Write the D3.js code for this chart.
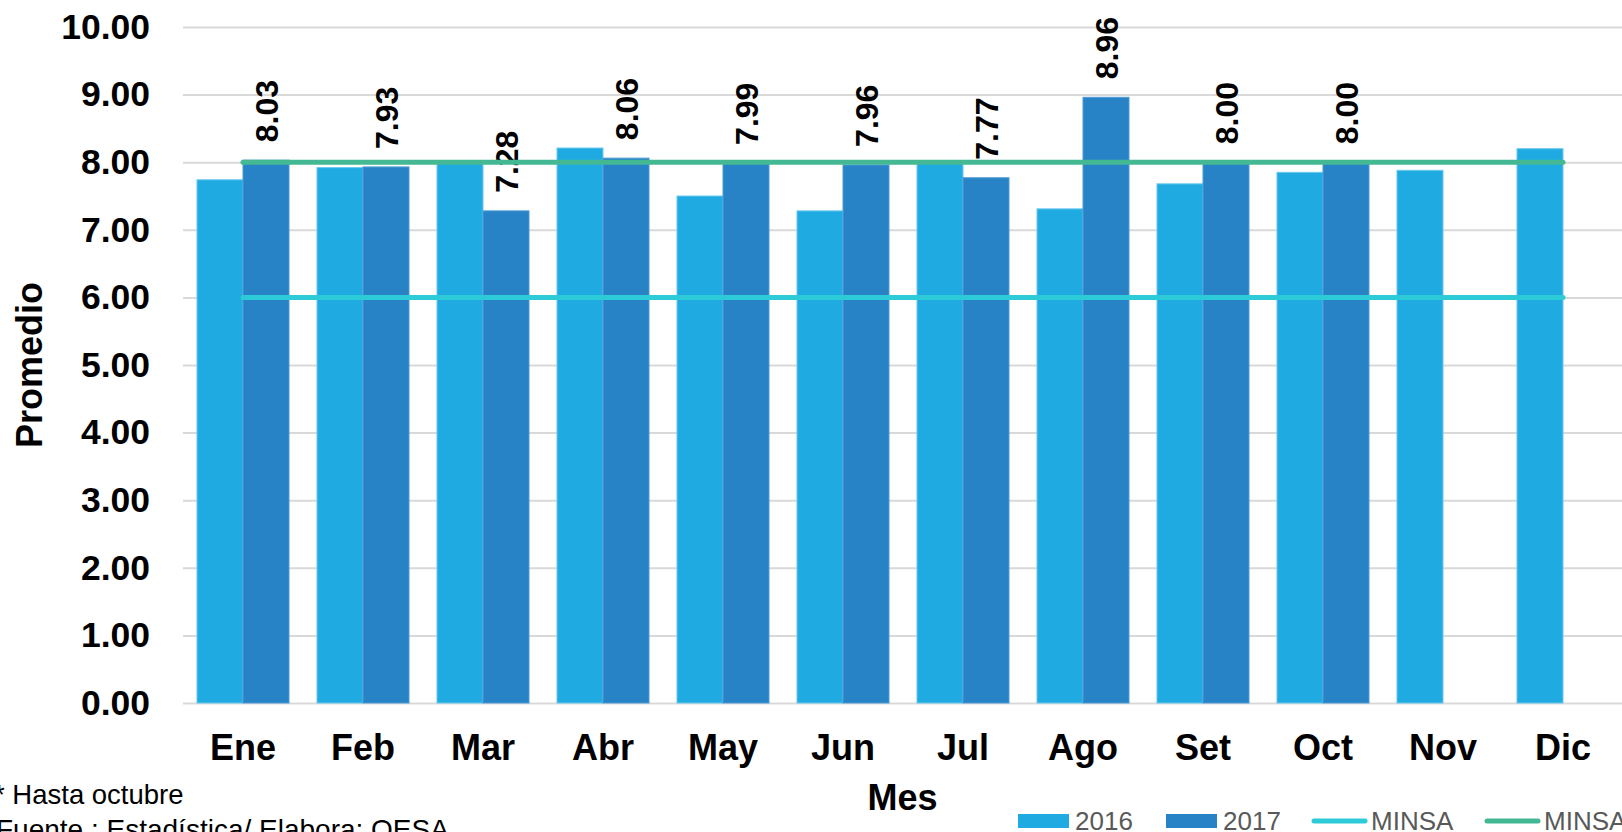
<!DOCTYPE html>
<html>
<head>
<meta charset="utf-8">
<script src="https://cdn.jsdelivr.net/npm/d3@7"></script>
<style>
  body { margin: 0; background: #fff; }
  svg { display: block; font-family: Arial, "Liberation Sans", sans-serif; }
</style>
</head>
<body>
<div id="svg-holder"></div>
<script>
// data
const months = ["Ene", "Feb", "Mar", "Abr", "May", "Jun", "Jul", "Ago", "Set", "Oct", "Nov", "Dic"];
const values2016 = [7.74, 7.92, 8.00, 8.21, 7.50, 7.28, 8.01, 7.31, 7.68, 7.85, 7.88, 8.20];
const values2017 = [8.03, 7.93, 7.28, 8.06, 7.99, 7.96, 7.77, 8.96, 8.00, 8.00, null, null];
const minsaLow = 6;
const minsaHigh = 8;
const yTicks = [0, 1, 2, 3, 4, 5, 6, 7, 8, 9, 10];
const seriesNames = ["2016", "2017", "MINSA", "MINSA"];

const colors = { y2016: "#1fabe2", y2017: "#2883c6", low: "#2ccbd7", high: "#43b893" };

let svg = d3.select("#svg-holder").append("svg");
svg.attr("width", 1622).attr("height", 832);

const plotLeft = 183, plotRight = 1623, plotTop = 27, plotBottom = 703;

// scales
const x = d3.scaleBand().domain(months).range([plotLeft, plotRight])
  .paddingInner(0.2333).paddingOuter(0.1167);
const x1 = d3.scaleBand().domain(["2016", "2017"]).range([0, x.bandwidth()]);
const y = d3.scaleLinear().domain([0, 10]).range([plotBottom, plotTop]);

// y axis + gridlines
let yAxis = svg.append("g")
  .attr("transform", `translate(${plotLeft},0)`)
  .call(d3.axisLeft(y).tickValues(yTicks).tickFormat(d3.format(".2f"))
    .tickSize(-(1622 - plotLeft)).tickPadding(33));
yAxis.select(".domain").remove();
yAxis.selectAll(".tick line").attr("stroke", "#d9d9d9").attr("stroke-width", 2);
yAxis.selectAll(".tick text")
  .attr("font-size", 35.5).attr("font-weight", "bold").attr("fill", "#000")
  .attr("font-family", "Arial, 'Liberation Sans', sans-serif");

// bars
const groups = svg.append("g").selectAll("g")
  .data(months)
  .join("g")
  .attr("transform", d => `translate(${x(d)},0)`);

groups.append("rect")
  .attr("x", x1("2016"))
  .attr("y", (d, i) => y(values2016[i]))
  .attr("width", x1.bandwidth())
  .attr("height", (d, i) => plotBottom - y(values2016[i]))
  .attr("fill", colors.y2016)
  .attr("stroke", "#6cc9ee").attr("stroke-width", 1);

groups.filter((d, i) => values2017[i] != null).append("rect")
  .attr("x", x1("2017"))
  .attr("y", d => y(values2017[months.indexOf(d)]))
  .attr("width", x1.bandwidth())
  .attr("height", d => plotBottom - y(values2017[months.indexOf(d)]))
  .attr("fill", colors.y2017)
  .attr("stroke", "#4f9bd4").attr("stroke-width", 1);

// MINSA lines
const lineGen = d3.line().x(d => x(d) + x.bandwidth() / 2);
svg.append("path")
  .attr("d", lineGen.y(() => y(minsaLow))(months))
  .attr("fill", "none").attr("stroke", colors.low)
  .attr("stroke-width", 5).attr("stroke-linecap", "round");
svg.append("path")
  .attr("d", lineGen.y(() => y(minsaHigh))(months))
  .attr("fill", "none").attr("stroke", colors.high)
  .attr("stroke-width", 5).attr("stroke-linecap", "round");

// value labels on 2017
groups.filter((d, i) => values2017[i] != null).append("text")
  .attr("transform", d => {
    const v = values2017[months.indexOf(d)];
    return `translate(${x1("2017") + x1.bandwidth() / 2},${y(v) - 18}) rotate(-90)`;
  })
  .attr("dy", "0.36em")
  .attr("font-size", 32).attr("font-weight", "bold")
  .text(d => values2017[months.indexOf(d)].toFixed(2));

// x axis
let xAxis = svg.append("g")
  .attr("transform", `translate(0,${plotBottom})`)
  .call(d3.axisBottom(x).tickSize(0).tickPadding(31));
xAxis.select(".domain").remove();
xAxis.selectAll(".tick text")
  .attr("font-size", 36).attr("font-weight", "bold").attr("fill", "#000")
  .attr("font-family", "Arial, 'Liberation Sans', sans-serif");

// axis titles
svg.append("text")
  .attr("x", (plotLeft + 1622) / 2).attr("y", 810)
  .attr("text-anchor", "middle")
  .attr("font-size", 36).attr("font-weight", "bold")
  .text("Mes");
svg.append("text")
  .attr("transform", `translate(42,${(plotTop + plotBottom) / 2}) rotate(-90)`)
  .attr("text-anchor", "middle")
  .attr("font-size", 36).attr("font-weight", "bold")
  .text("Promedio");

// footnotes
svg.append("text").attr("x", -6).attr("y", 804)
  .attr("font-size", 27.5).text("* Hasta octubre");
svg.append("text").attr("x", -4).attr("y", 839)
  .attr("font-size", 28).text("Fuente : Estadística/ Elabora: OESA");

// legend
const legendX = [1018, 1166, 1312, 1485];
const legendType = ["rect", "rect", "line", "line"];
const legendColor = [colors.y2016, colors.y2017, colors.low, colors.high];
const leg = svg.append("g").selectAll("g")
  .data(seriesNames)
  .join("g")
  .attr("transform", (d, i) => `translate(${legendX[i]},0)`);
leg.each(function (d, i) {
  const g = d3.select(this);
  if (legendType[i] === "line") {
    g.append("line")
      .attr("x1", 2).attr("x2", 53).attr("y1", 821).attr("y2", 821)
      .attr("stroke", legendColor[i]).attr("stroke-width", 5)
      .attr("stroke-linecap", "round");
  } else {
    g.append("rect")
      .attr("x", 0).attr("y", 814).attr("width", 51).attr("height", 14)
      .attr("fill", legendColor[i]);
  }
  g.append("text")
    .attr("x", legendType[i] === "line" ? 59 : 57).attr("y", 830)
    .attr("font-size", 26).attr("fill", "#595959")
    .text(d);
});
</script>
</body>
</html>
